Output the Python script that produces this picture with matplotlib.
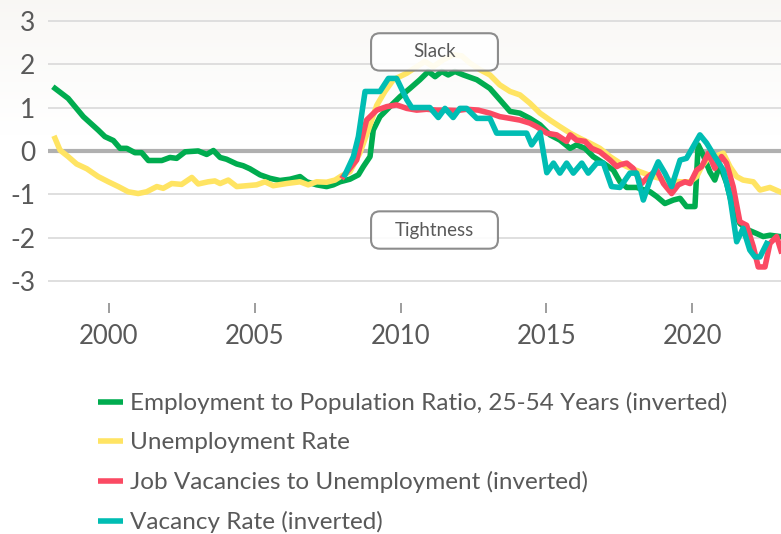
import numpy as np
import matplotlib.pyplot as plt
from matplotlib.patches import FancyBboxPatch

plt.rcParams['font.family'] = ['Lato', 'DejaVu Sans']

# --- data (decimal years, z-scores) ---
emp_years = [1998.15, 1998.60, 1999.12, 1999.63, 1999.86, 2000.15, 2000.38, 2000.61, 2000.89,
             2001.12, 2001.35, 2001.81, 2002.09, 2002.32, 2002.61, 2003.06, 2003.35, 2003.58,
             2003.81, 2004.03, 2004.38, 2004.60, 2004.83, 2005.18, 2005.52, 2005.86, 2006.21,
             2006.55, 2006.78, 2007.12, 2007.46, 2007.69, 2007.92, 2008.26, 2008.55, 2008.72,
             2008.95, 2009.06, 2009.29, 2009.63, 2009.98, 2010.32, 2010.66, 2010.95, 2011.18,
             2011.41, 2011.63, 2011.86, 2012.15, 2012.61, 2013.06, 2013.40, 2013.75, 2014.09,
             2014.43, 2014.78, 2015.12, 2015.46, 2015.81, 2016.03, 2016.32, 2016.60, 2016.95,
             2017.29, 2017.52, 2017.75, 2018.09, 2018.55, 2018.78, 2019.06, 2019.35, 2019.58,
             2019.80, 2020.09, 2020.20, 2020.37, 2020.60, 2020.77, 2020.94, 2021.18, 2021.40,
             2021.63, 2021.92, 2022.20, 2022.43, 2022.66, 2023.00]
emp_vals = [1.44, 1.21, 0.79, 0.48, 0.33, 0.24, 0.06, 0.06, -0.04,
            -0.04, -0.22, -0.22, -0.15, -0.17, -0.02, 0.00, -0.08, 0.01,
            -0.15, -0.19, -0.30, -0.34, -0.41, -0.55, -0.63, -0.68, -0.65,
            -0.59, -0.71, -0.78, -0.82, -0.78, -0.71, -0.65, -0.55, -0.36,
            -0.13, 0.48, 0.79, 1.02, 1.25, 1.44, 1.64, 1.83, 1.71,
            1.83, 1.75, 1.83, 1.75, 1.64, 1.44, 1.18, 0.91, 0.87,
            0.75, 0.60, 0.37, 0.25, 0.06, 0.14, 0.06, -0.13, -0.28,
            -0.44, -0.71, -0.84, -0.84, -0.94, -1.05, -1.21, -1.13, -1.09,
            -1.28, -1.28, 0.14, -0.09, -0.48, -0.67, -0.32, -0.75, -1.36,
            -1.67, -1.82, -1.90, -1.97, -1.94, -1.97]

unemp_years = [1998.15, 1998.32, 1998.60, 1998.89, 1999.24, 1999.63, 1999.98, 2000.32, 2000.66,
               2001.00, 2001.29, 2001.64, 2001.86, 2002.15, 2002.49, 2002.84, 2003.06, 2003.40,
               2003.63, 2003.81, 2004.09, 2004.38, 2004.72, 2005.06, 2005.35, 2005.63, 2006.09,
               2006.55, 2006.83, 2007.12, 2007.46, 2007.75, 2007.98, 2008.26, 2008.60, 2008.89,
               2009.18, 2009.46, 2009.75, 2010.21, 2010.55, 2010.83, 2011.12, 2011.46, 2011.80,
               2012.09, 2012.38, 2012.72, 2013.06, 2013.40, 2013.75, 2014.09, 2014.43, 2014.78,
               2015.12, 2015.46, 2015.81, 2016.15, 2016.49, 2016.83, 2017.18, 2017.52, 2017.75,
               2018.21, 2018.66, 2019.12, 2019.58, 2019.92, 2020.15, 2020.32, 2020.49, 2020.77,
               2021.06, 2021.29, 2021.52, 2021.74, 2022.09, 2022.32, 2022.66, 2023.00]
unemp_vals = [0.29, 0.02, -0.13, -0.30, -0.41, -0.59, -0.71, -0.82, -0.94,
              -0.98, -0.94, -0.82, -0.86, -0.75, -0.77, -0.61, -0.76, -0.71,
              -0.69, -0.75, -0.67, -0.82, -0.80, -0.78, -0.71, -0.80, -0.75,
              -0.71, -0.78, -0.71, -0.72, -0.67, -0.57, -0.48, -0.05, 0.48,
              1.05, 1.37, 1.64, 1.79, 1.94, 2.06, 1.94, 2.10, 2.21,
              2.19, 2.02, 1.87, 1.75, 1.52, 1.37, 1.29, 1.10, 0.87,
              0.71, 0.56, 0.41, 0.29, 0.18, 0.06, -0.13, -0.28, -0.36,
              -0.48, -0.59, -0.67, -0.71, -0.71, -0.59, -0.36, -0.21, -0.13,
              -0.05, -0.36, -0.59, -0.67, -0.71, -0.90, -0.84, -0.94]

vu_years = [2008.03, 2008.49, 2008.83, 2009.18, 2009.52, 2009.86, 2010.21, 2010.55, 2010.89,
            2011.23, 2011.57, 2011.92, 2012.26, 2012.66, 2013.06, 2013.40, 2013.75, 2014.09,
            2014.43, 2014.66, 2015.01, 2015.35, 2015.69, 2015.81, 2016.03, 2016.32, 2016.55,
            2016.83, 2017.18, 2017.41, 2017.52, 2017.75, 2017.97, 2018.26, 2018.49, 2018.78,
            2019.01, 2019.29, 2019.52, 2019.75, 2019.92, 2020.15, 2020.32, 2020.55, 2020.77,
            2021.00, 2021.17, 2021.40, 2021.63, 2021.86, 2022.09, 2022.26, 2022.49, 2022.66,
            2022.89, 2023.04]
vu_vals = [-0.59, -0.21, 0.71, 0.94, 1.02, 1.06, 0.98, 0.94, 0.96,
           0.94, 0.94, 0.93, 0.96, 0.94, 0.87, 0.79, 0.75, 0.71,
           0.64, 0.56, 0.41, 0.37, 0.22, 0.37, 0.25, 0.22, 0.06,
           -0.02, -0.21, -0.36, -0.32, -0.28, -0.40, -0.75, -0.59, -0.44,
           -0.75, -0.98, -0.78, -0.71, -0.75, -0.44, -0.36, -0.05, -0.40,
           -0.13, -0.28, -0.82, -1.63, -1.71, -2.20, -2.67, -2.67, -2.13,
           -1.97, -2.30]

vac_years = [2008.09, 2008.38, 2008.55, 2008.78, 2009.29, 2009.58, 2009.86, 2010.21, 2010.38,
             2011.00, 2011.29, 2011.52, 2011.80, 2012.03, 2012.26, 2012.61, 2013.06, 2013.29,
             2014.32, 2014.49, 2014.78, 2015.01, 2015.24, 2015.46, 2015.69, 2015.92, 2016.21,
             2016.43, 2016.72, 2016.95, 2017.23, 2017.52, 2017.86, 2018.09, 2018.32, 2018.55,
             2018.83, 2019.06, 2019.29, 2019.58, 2019.80, 2020.26, 2020.49, 2020.77, 2021.06,
             2021.29, 2021.52, 2021.74, 2021.97, 2022.15, 2022.32, 2022.55]
vac_vals = [-0.55, -0.13, 0.33, 1.37, 1.37, 1.67, 1.67, 1.18, 1.00,
            1.00, 0.77, 0.98, 0.77, 0.98, 0.98, 0.75, 0.75, 0.41,
            0.41, 0.14, 0.42, -0.50, -0.28, -0.51, -0.28, -0.51, -0.28,
            -0.51, -0.28, -0.28, -0.82, -0.84, -0.51, -0.51, -1.13, -0.67,
            -0.25, -0.51, -0.82, -0.21, -0.17, 0.37, 0.18, -0.13, -0.44,
            -1.05, -2.09, -1.78, -2.28, -2.44, -2.44, -2.13]

labels = ["Employment to Population Ratio, 25-54 Years (inverted)",
          "Unemployment Rate",
          "Job Vacancies to Unemployment (inverted)",
          "Vacancy Rate (inverted)"]
colors = ["#00ac4f", "#ffe463", "#fb4a63", "#00bdb3"]

year_ticks = [2000, 2005, 2010, 2015, 2020]
y_ticks = [-3, -2, -1, 0, 1, 2, 3]

fig = plt.figure(figsize=(7.81, 5.34), dpi=100)

# faint warm tint at the top of the picture
bg = fig.add_axes([0, 0, 1, 1], zorder=-10)
grad = np.linspace(0, 1, 256)[:, None]
tint = np.ones((256, 1, 3))
strength = np.clip(1 - grad / 0.25, 0, 1)[:, :, None]
tint = tint - strength * np.array([0.025, 0.03, 0.04])
bg.imshow(tint, aspect='auto', extent=[0, 1, 0, 1], origin='upper')
bg.axis('off')

ax = fig.add_axes([0.0615, 0.4326, 0.9385, 0.532])
ax.patch.set_alpha(0)

for yv in y_ticks:
    ax.axhline(yv, color="#dcdcdc", lw=1.3, zorder=1)
ax.axhline(0, color="#b0b0b0", lw=3, zorder=2)

ax.plot(emp_years, emp_vals, color=colors[0], lw=4, label=labels[0], zorder=3)
ax.plot(unemp_years, unemp_vals, color=colors[1], lw=4, label=labels[1], zorder=3)
ax.plot(vu_years, vu_vals, color=colors[2], lw=4, label=labels[2], zorder=4)
ax.plot(vac_years, vac_vals, color=colors[3], lw=4, label=labels[3], zorder=5)

ax.set_xlim(1997.91, 2023.04)
ax.set_ylim(-3.5, 3.04)
ax.set_xticks(year_ticks)
ax.set_yticks(y_ticks)
ax.set_yticklabels([str(v) for v in y_ticks])
ax.tick_params(axis='y', length=0, pad=9, labelsize=19, labelcolor="#595959")
ax.tick_params(axis='x', length=7.5, width=1.2, color="#8c8c8c", pad=7.5,
               labelsize=18.5, labelcolor="#595959")
for s in ax.spines.values():
    s.set_visible(False)

# Slack / Tightness boxes
for txt, yc in [("Slack", 2.28), ("Tightness", -1.82)]:
    w, h = 4.35, 0.86
    box = FancyBboxPatch((2011.16 - w / 2, yc - h / 2), w, h,
                         boxstyle="round,pad=0,rounding_size=0.3",
                         mutation_aspect=0.67, fc="white", ec="#808080", lw=1.5,
                         alpha=0.9, zorder=6)
    ax.add_patch(box)
    ax.text(2011.16, yc, txt, ha='center', va='center', fontsize=13.5,
            color="#595959", zorder=7)

leg = fig.legend(loc='upper left', bbox_to_anchor=(0.113, 0.284), frameon=False,
                 fontsize=17.5, labelcolor="#595959", handlelength=1.05,
                 handletextpad=0.25, labelspacing=0.74, borderaxespad=0)
for h in leg.legend_handles:
    h.set_solid_capstyle('butt')

fig.savefig("out.png", dpi=100)
